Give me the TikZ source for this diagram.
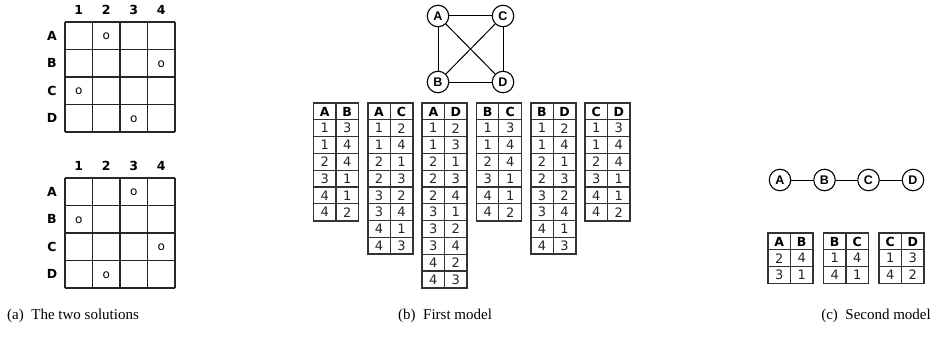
\documentclass[tikz,border=0pt]{standalone}
\usepackage{fontspec}
\setmainfont{Liberation Serif}
\newfontfamily\verd{DejaVu Sans}
\newfontfamily\arl{Liberation Sans}
\tikzset{
  gline/.style={line width=1.4pt, draw=black!85},
  glab/.style={font=\verd\bfseries\fontsize{12.5}{13}\selectfont, inner sep=0pt},
  gmark/.style={font=\verd\fontsize{12}{13}\selectfont, inner sep=0pt},
  touter/.style={line width=1.8pt, draw=black!80},
  tinner/.style={line width=1.1pt, draw=black!80},
  thead/.style={font=\verd\bfseries\fontsize{12.5}{13}\selectfont, inner sep=0pt},
  tcell/.style={font=\verd\fontsize{13}{14}\selectfont, inner sep=0pt, text=black!85},
  vnode/.style={circle, draw, line width=1.1pt, minimum size=21.5pt, inner sep=0pt, font=\arl\bfseries\fontsize{12.5}{13}\selectfont},
  vedge/.style={line width=1pt},
  capt/.style={font=\fontsize{15}{17}\selectfont, inner sep=0pt, anchor=base west}
}
% \tabl{name}{x}{y}{L1}{L2}{nrows}{rows p/q,...}
\newcommand\tabl[7]{%
  \draw[tinner] (#2+22.5,#3) -- ++(0,{(#6+1)*16.8});
  \foreach \i in {1,...,#6} \draw[tinner] (#2,{#3+\i*16.8}) -- ++(45,0);
  \draw[touter] (#2,#3) rectangle ++(45,{(#6+1)*16.8});
  \node[thead] (#1-h1) at ({#2+11.25},{#3+8.6}) {#4};
  \node[thead] (#1-h2) at ({#2+33.75},{#3+8.6}) {#5};
  \foreach \p/\q [count=\i] in {#7} {
    \node[tcell] (#1-\i a) at ({#2+11.25},{#3+(\i+0.5)*16.8}) {\p};
    \node[tcell] (#1-\i b) at ({#2+33.75},{#3+(\i+0.5)*16.8}) {\q};
  }%
}
% \gridd{name}{top y}{marks row/col}
\newcommand\gridd[3]{%
  \foreach \i in {0,...,4} {
    \draw[gline] (65,{#2+\i*27.5}) -- (175,{#2+\i*27.5});
    \draw[gline] ({65+\i*27.5},#2) -- ({65+\i*27.5},{#2+110});
  }
  \foreach \c [count=\i] in {1,2,3,4}
    \node[glab] (#1-c\c) at ({65+(\i-0.5)*27.5},{#2-12}) {\c};
  \foreach \r [count=\i] in {A,B,C,D}
    \node[glab] (#1-r\r) at (52,{#2+(\i-0.5)*27.5}) {\r};
  \foreach \r/\c in {#3}
    \node[gmark] (#1-m\r) at ({65+(\c-0.5)*27.5},{#2+(\r-0.5)*27.5+0.8}) {o};
}
\begin{document}
\begin{tikzpicture}[x=1pt,y=-1pt]
\useasboundingbox (0,0) rectangle (934,337);
% (a) grids
\gridd{ga}{22}{1/2,2/4,3/1,4/3}
\gridd{gb}{178}{1/3,2/1,3/4,4/2}
% (b) complete graph
\node[vnode] (A1) at (438,16) {A};
\node[vnode] (C1) at (503,16) {C};
\node[vnode] (B1) at (438,82) {B};
\node[vnode] (D1) at (503,82) {D};
\draw[vedge] (A1) -- (C1);
\draw[vedge] (A1) -- (B1);
\draw[vedge] (A1) -- (D1);
\draw[vedge] (C1) -- (B1);
\draw[vedge] (C1) -- (D1);
\draw[vedge] (B1) -- (D1);
% (b) tables
\tabl{tAB}{313.5}{103}{A}{B}{6}{1/3,1/4,2/4,3/1,4/1,4/2}
\tabl{tAC}{367.8}{103}{A}{C}{8}{1/2,1/4,2/1,2/3,3/2,3/4,4/1,4/3}
\tabl{tAD}{422.1}{103}{A}{D}{10}{1/2,1/3,2/1,2/3,2/4,3/1,3/2,3/4,4/2,4/3}
\tabl{tBC}{476.4}{103}{B}{C}{6}{1/3,1/4,2/4,3/1,4/1,4/2}
\tabl{tBD}{530.7}{103}{B}{D}{8}{1/2,1/4,2/1,2/3,3/2,3/4,4/1,4/3}
\tabl{tCD}{585}{103}{C}{D}{6}{1/3,1/4,2/4,3/1,4/1,4/2}
% (c) path graph
\node[vnode] (A2) at (780,180) {A};
\node[vnode] (B2) at (824.5,180) {B};
\node[vnode] (C2) at (868.5,180) {C};
\node[vnode] (D2) at (913,180) {D};
\draw[vedge] (A2) -- (B2);
\draw[vedge] (B2) -- (C2);
\draw[vedge] (C2) -- (D2);
% (c) tables
\tabl{sAB}{768}{233}{A}{B}{2}{2/4,3/1}
\tabl{sBC}{823.5}{233}{B}{C}{2}{1/4,4/1}
\tabl{sCD}{879}{233}{C}{D}{2}{1/3,4/2}
% captions
\node[capt] (capa) at (7,319) {(a)\enspace The two solutions};
\node[capt] (capb) at (398,319) {(b)\enspace First model};
\node[capt, anchor=base east] (capc) at (931,319) {(c)\enspace Second model};
\end{tikzpicture}
\end{document}
